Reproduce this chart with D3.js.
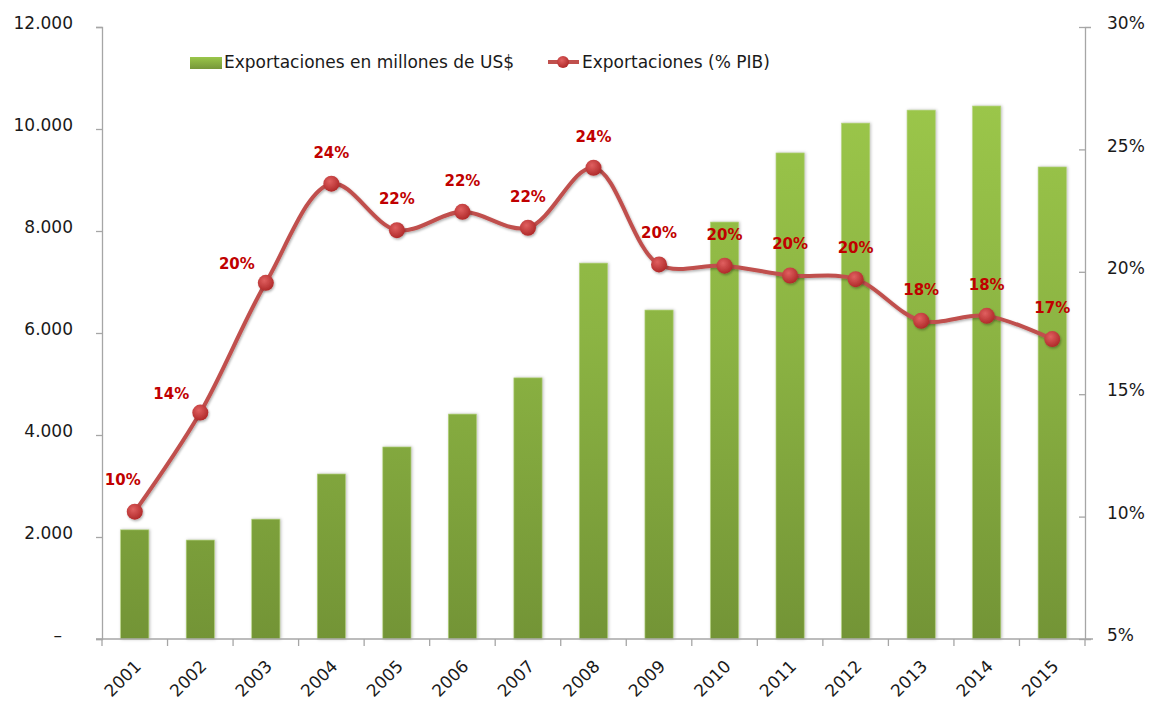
<!DOCTYPE html>
<html><head><meta charset="utf-8">
<script src="https://cdn.jsdelivr.net/npm/d3@7"></script>
<style>
body{margin:0;background:#fff;}
text{font-family:"DejaVu Sans",Verdana,sans-serif;}
</style></head>
<body><svg id="c" width="1153" height="702"></svg>
<script>
const years = ["2001","2002","2003","2004","2005","2006","2007","2008","2009","2010","2011","2012","2013","2014","2015"];
const exportsUSD = [2140,1940,2350,3235,3765,4410,5120,7370,6450,8175,9530,10115,10370,10450,9255];
const exportsPIB = [10.2,14.25,19.55,23.6,21.7,22.45,21.8,24.25,20.3,20.25,19.85,19.7,18.0,18.2,17.25];
const pibLabels = ["10%","14%","20%","24%","22%","22%","22%","24%","20%","20%","20%","20%","18%","18%","17%"];
const leftTicks = [0,2000,4000,6000,8000,10000,12000];
const rightTicks = [5,10,15,20,25,30];
const legendNames = ["Exportaciones en millones de US$","Exportaciones (% PIB)"];

const svg = d3.select("#c");
const L=102, R=1085, T=27, B=639;
const x = d3.scaleBand().domain(years).range([L,R]).paddingInner(0.57).paddingOuter(0.285);
const y = d3.scaleLinear().domain([0,12000]).range([B,T]);
const y2 = d3.scaleLinear().domain([5,30]).range([B,T]);

const defs = svg.append("defs");
const g = defs.append("linearGradient").attr("id","barg").attr("gradientUnits","userSpaceOnUse")
  .attr("x1",0).attr("y1",T).attr("x2",0).attr("y2",B);
g.append("stop").attr("offset","0").attr("stop-color","#a0cc4c");
g.append("stop").attr("offset","0.5").attr("stop-color","#8cb443");
g.append("stop").attr("offset","1").attr("stop-color","#739436");
const lg = defs.append("linearGradient").attr("id","legg").attr("x1",0).attr("y1",0).attr("x2",0).attr("y2",1);
lg.append("stop").attr("offset","0").attr("stop-color","#9ac64a");
lg.append("stop").attr("offset","1").attr("stop-color","#76973a");
const rg = defs.append("radialGradient").attr("id","dotg").attr("cx","40%").attr("cy","35%").attr("r","65%");
rg.append("stop").attr("offset","0").attr("stop-color","#e06060");
rg.append("stop").attr("offset","1").attr("stop-color","#b02a2a");
const f = defs.append("filter").attr("id","sh").attr("x","-50%").attr("y","-50%").attr("width","200%").attr("height","200%");
f.append("feDropShadow").attr("dx",1).attr("dy",1.5).attr("stdDeviation",1.2).attr("flood-color","#000").attr("flood-opacity",0.3);

// bars
svg.append("g").selectAll("rect").data(years).join("rect")
  .attr("x",d=>x(d)).attr("width",x.bandwidth())
  .attr("y",(d,i)=>y(exportsUSD[i])).attr("height",(d,i)=>B-y(exportsUSD[i]))
  .attr("fill","url(#barg)").attr("stroke","#b5d67a").attr("stroke-width",0.6)
  .style("filter","drop-shadow(1px 0px 1.5px rgba(0,0,0,0.25))");

// axes
const axC="#a6a6a6";
const la = svg.append("g").attr("transform",`translate(${L},0)`)
  .call(d3.axisLeft(y).tickValues(leftTicks).tickSize(6).tickPadding(23)
    .tickFormat(d=>d===0?"–":d3.format(",")(d).replace(/,/g,".")));
la.select(".domain").attr("stroke",axC).attr("stroke-width",1.3);
la.selectAll(".tick line").attr("stroke",axC).attr("stroke-width",1.3);
la.selectAll(".tick text").attr("font-size",17).attr("fill","#1a1a1a").attr("dy","0.1em");
la.selectAll(".tick text").filter(d=>d===0).attr("dx",-11);

const ra = svg.append("g").attr("transform",`translate(${R},0)`)
  .call(d3.axisRight(y2).tickValues(rightTicks).tickSize(6).tickPadding(16).tickFormat(d=>d+"%"));
ra.select(".domain").attr("stroke",axC).attr("stroke-width",1.3);
ra.selectAll(".tick line").attr("stroke",axC).attr("stroke-width",1.3).attr("x1",-6).attr("x2",0);
ra.selectAll(".tick text").attr("font-size",17).attr("fill","#1a1a1a").attr("dy","0.1em");

const xa = svg.append("g").attr("transform",`translate(0,${B})`)
  .call(d3.axisBottom(x).tickSize(0).tickFormat(d=>d));
xa.select(".domain").attr("stroke",axC).attr("stroke-width",1.3).attr("d",`M${L-6},0H${R+8}`);
xa.selectAll(".tick line").remove();
svg.append("g").selectAll("line").data(d3.range(years.length+1)).join("line")
  .attr("x1",i=>L+i*x.step()).attr("x2",i=>L+i*x.step()).attr("y1",B).attr("y2",B+7)
  .attr("stroke",axC).attr("stroke-width",1.3);
xa.selectAll(".tick text").attr("font-size",17).attr("fill","#1a1a1a")
  .attr("text-anchor","end").attr("dy","0.35em")
  .attr("transform","translate(1,22) rotate(-45)");

// line
const pts = years.map((d,i)=>[x(d)+x.bandwidth()/2, y2(exportsPIB[i])]);
svg.append("path").attr("d",d3.line().curve(d3.curveCatmullRom.alpha(0.5))(pts))
  .attr("fill","none").attr("stroke","#c0504d").attr("stroke-width",4).style("filter","url(#sh)");
svg.append("g").selectAll("circle").data(pts).join("circle")
  .attr("cx",d=>d[0]).attr("cy",d=>d[1]).attr("r",8).attr("fill","url(#dotg)").style("filter","url(#sh)");
svg.append("g").selectAll("text").data(pts).join("text")
  .attr("x",(d,i)=>d[0]-(i<3?[12,29,29][i]:0)).attr("y",(d,i)=>d[1]-(i<3?[27,14,14][i]:26))
  .attr("text-anchor","middle").attr("font-size",15).attr("font-weight","bold").attr("fill","#c00000")
  .text((d,i)=>pibLabels[i]);

// legend
const leg = svg.append("g");
leg.append("rect").attr("x",190).attr("y",57).attr("width",32).attr("height",12).attr("fill","url(#legg)");
leg.append("text").attr("x",224).attr("y",68).attr("font-size",17).attr("fill","#1a1a1a").text(legendNames[0]);
leg.append("line").attr("x1",548).attr("x2",579).attr("y1",62).attr("y2",62).attr("stroke","#c0504d").attr("stroke-width",4);
leg.append("circle").attr("cx",563).attr("cy",62).attr("r",6).attr("fill","url(#dotg)");
leg.append("text").attr("x",582).attr("y",68).attr("font-size",17).attr("fill","#1a1a1a").text(legendNames[1]);
</script></body></html>
